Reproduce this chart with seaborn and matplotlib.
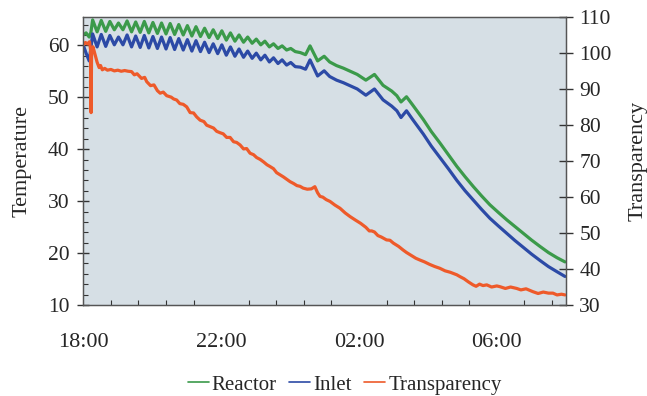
# Reactor / inlet temperature and transparency over one night

import matplotlib
matplotlib.use("Agg")
from matplotlib import pyplot as plt
from matplotlib.lines import Line2D
from matplotlib.ticker import MultipleLocator
import seaborn as sns

# ======================================================================
# Data (hours after 18:00)
# ======================================================================
hour_labels = ["18:00", "22:00", "02:00", "06:00"]
hour_ticks = [0, 4, 8, 12]

temp_hours = [0.00, 0.08, 0.17, 0.22,
              0.27, 0.40, 0.52, 0.65, 0.77, 0.90, 1.02, 1.15, 1.27, 1.40,
              1.52, 1.65, 1.77, 1.90, 2.02, 2.15, 2.27, 2.40, 2.52, 2.65,
              2.77, 2.90, 3.02, 3.15, 3.27, 3.40, 3.52, 3.65, 3.77, 3.90,
              4.02, 4.15, 4.27, 4.40, 4.52, 4.65, 4.77, 4.90, 5.02, 5.15,
              5.27, 5.40, 5.52, 5.65, 5.77, 5.90, 6.02, 6.15,
              6.30, 6.45, 6.58, 6.80, 6.99, 7.15, 7.35, 7.55, 7.75, 7.95,
              8.20, 8.45, 8.70, 8.95, 9.10, 9.22, 9.38, 9.55, 9.87, 10.10,
              10.35, 10.60, 10.84, 11.08, 11.32, 11.56, 11.80, 12.05, 12.29,
              12.53, 12.77, 13.01, 13.25, 13.50, 13.75, 13.98]

reactor = [62.0, 62.4, 61.6, 62.5,
           64.9, 62.6, 64.8, 62.7, 64.6, 63.0, 64.3, 63.0, 64.7, 62.6,
           64.5, 62.5, 64.6, 62.4, 64.4, 62.3, 64.3, 62.2, 64.2, 62.1,
           64.0, 62.0, 63.8, 61.8, 63.6, 61.7, 63.3, 61.5, 63.0, 61.3,
           62.8, 61.0, 62.4, 60.8, 62.0, 60.6, 61.6, 60.4, 61.2, 60.1,
           60.8, 59.7, 60.3, 59.4, 59.9, 59.1, 59.4, 58.8,
           58.6, 58.2, 59.9, 57.0, 57.9, 56.8, 56.1, 55.6, 55.0, 54.4,
           53.3, 54.4, 52.3, 51.2, 50.3, 49.1, 50.1, 48.6, 45.7, 43.4,
           41.2, 38.9, 36.7, 34.7, 32.8, 31.0, 29.3, 27.8, 26.4,
           25.1, 23.8, 22.5, 21.3, 20.1, 19.1, 18.3]

inlet = [60.0, 58.5, 57.0, 59.5,
         62.2, 59.7, 62.1, 59.8, 61.9, 60.1, 61.6, 60.1, 62.0, 59.7,
         61.8, 59.6, 61.9, 59.5, 61.7, 59.4, 61.6, 59.3, 61.5, 59.2,
         61.3, 59.1, 61.1, 58.9, 60.9, 58.8, 60.6, 58.6, 60.3, 58.4,
         60.1, 58.1, 59.7, 57.9, 59.3, 57.7, 58.9, 57.5, 58.5, 57.2,
         58.1, 56.8, 57.6, 56.5, 57.2, 56.2, 56.7, 55.9,
         55.8, 55.4, 57.2, 54.1, 55.1, 54.0, 53.3, 52.8, 52.2, 51.6,
         50.4, 51.6, 49.5, 48.3, 47.4, 46.1, 47.4, 45.8, 42.9, 40.6,
         38.4, 36.2, 34.0, 32.0, 30.2, 28.4, 26.7, 25.2, 23.8,
         22.4, 21.1, 19.8, 18.6, 17.4, 16.4, 15.5]

trans_hours = [0.00, 0.06, 0.12, 0.18, 0.21, 0.225, 0.24, 0.28, 0.33, 0.40,
               0.46, 0.50, 0.55, 0.62, 0.70, 0.80, 0.90, 1.00, 1.10, 1.20,
               1.30, 1.40, 1.48, 1.56, 1.69, 1.78, 1.84, 1.95, 2.05, 2.15,
               2.23, 2.32, 2.42, 2.55, 2.62, 2.71, 2.80, 2.90, 3.00, 3.10,
               3.20, 3.29, 3.39, 3.50, 3.58, 3.68, 3.78, 3.87, 3.97, 4.06,
               4.16, 4.26, 4.36, 4.45, 4.55, 4.65, 4.74, 4.84, 4.94, 5.03,
               5.13, 5.23, 5.33, 5.42, 5.52, 5.61, 5.71, 5.81, 5.90, 6.00,
               6.10, 6.20, 6.29, 6.38, 6.50, 6.62, 6.72, 6.80, 6.87, 6.95,
               7.05, 7.16, 7.30, 7.45, 7.60, 7.74, 7.90, 8.05, 8.20, 8.30,
               8.37, 8.45, 8.55, 8.65, 8.80, 8.90, 9.00, 9.15, 9.28, 9.38,
               9.50, 9.65, 9.77, 9.90, 10.05, 10.20, 10.35, 10.50, 10.65,
               10.84, 10.93, 11.05, 11.18, 11.31, 11.40, 11.50, 11.60, 11.71,
               11.85, 12.00, 12.09, 12.25, 12.40, 12.58, 12.70, 12.85, 13.05,
               13.20, 13.35, 13.50, 13.63, 13.75, 13.88, 13.98]

transparency = [102.4, 103.0, 102.6, 103.2, 101.0, 83.5, 100.5, 101.8, 100.0, 97.5,
                96.0, 96.6, 95.4, 95.8, 95.3, 95.5, 95.1, 95.3, 95.0, 95.2,
                95.0, 94.9, 94.0, 94.3, 93.0, 93.3, 92.1, 91.0, 91.2, 89.6,
                88.9, 89.2, 88.2, 87.8, 87.3, 87.0, 86.0, 85.8, 85.1, 83.5,
                83.4, 82.3, 81.4, 81.0, 80.0, 79.6, 79.2, 78.3, 77.9, 77.6,
                76.6, 76.6, 75.4, 75.2, 74.5, 73.4, 73.5, 72.2, 71.8, 71.0,
                70.5, 69.8, 69.0, 68.5, 67.9, 66.8, 66.2, 65.6, 65.0, 64.3,
                63.8, 63.2, 63.0, 62.5, 62.2, 62.3, 62.9, 61.2, 60.2, 60.0,
                59.3, 58.8, 57.8, 56.9, 55.6, 54.6, 53.6, 52.7, 51.6, 50.6,
                50.6, 50.3, 49.3, 48.9, 48.1, 48.0, 47.2, 46.3, 45.3, 44.6,
                43.9, 43.0, 42.5, 42.0, 41.3, 40.7, 40.2, 39.5, 39.1,
                38.4, 37.9, 37.3, 36.4, 35.6, 35.2, 35.8, 35.4, 35.6,
                35.0, 35.3, 35.1, 34.6, 35.0, 34.6, 34.2, 34.5, 33.7,
                33.2, 33.6, 33.3, 33.3, 32.8, 33.0, 32.8]

green = "#3b9a4a"
blue = "#2c4aa6"
red = "#ee5a2a"

# ======================================================================
# Style
# ======================================================================
sns.set_style("white")
plt.rcParams["font.family"] = ["Liberation Serif", "DejaVu Serif"]

fig = plt.figure(figsize=(6.47, 3.96), dpi=100)
ax = fig.add_axes([0.1288, 0.2298, 0.7455, 0.7265])
ax.set_facecolor("#d6dfe5")

line_kw = dict(lw=2.3, solid_joinstyle="round", solid_capstyle="round")

# ======================================================================
# Temperatures (left axis)
# ======================================================================
sns.lineplot(x=temp_hours, y=reactor, ax=ax, color=green, **line_kw)
sns.lineplot(x=temp_hours, y=inlet, ax=ax, color=blue, **line_kw)

ax.set_xlim(0, 14)
ax.set_ylim(10, 65.4)
ax.set_xticks(hour_ticks)
ax.set_xticklabels(hour_labels)
ax.xaxis.set_minor_locator(MultipleLocator(0.8))
ax.set_yticks([10, 20, 30, 40, 50, 60])
ax.yaxis.set_minor_locator(MultipleLocator(2))
ax.tick_params(axis="x", which="major", direction="inout", length=9,
               width=1, labelsize=16, pad=16, color="#333333")
ax.tick_params(axis="y", which="major", direction="inout", length=8,
               width=1, labelsize=15.5, pad=6, color="#333333")
ax.tick_params(which="minor", direction="in", length=3.5, width=0.8,
               color="#333333", bottom=True, left=True)
ax.set_ylabel("Temperature", fontsize=16, labelpad=12)

# ======================================================================
# Transparency (right axis)
# ======================================================================
ax2 = ax.twinx()
sns.lineplot(x=trans_hours, y=transparency, ax=ax2, color=red, **line_kw)
ax2.set_ylim(30, 110)
ax2.set_yticks(range(30, 111, 10))
ax2.tick_params(axis="y", direction="inout", length=9.5, width=1,
                labelsize=15.5, pad=5, color="#333333")
ax2.set_ylabel("Transparency", fontsize=16, labelpad=12)

for a in (ax, ax2):
    for s in a.spines.values():
        s.set_color("#555555")
        s.set_linewidth(0.9)

# ======================================================================
# Legend below the plot
# ======================================================================
handles = [Line2D([], [], color=green, lw=1.2),
           Line2D([], [], color=blue, lw=1.2),
           Line2D([], [], color=red, lw=1.2)]
fig.legend(handles, ["Reactor", "Inlet", "Transparency"], loc="center",
           bbox_to_anchor=(0.533, 0.028), ncol=3, frameon=False, fontsize=15,
           handlelength=1.0, handletextpad=0.15, columnspacing=0.6)

plt.savefig("out.png", dpi=100)
